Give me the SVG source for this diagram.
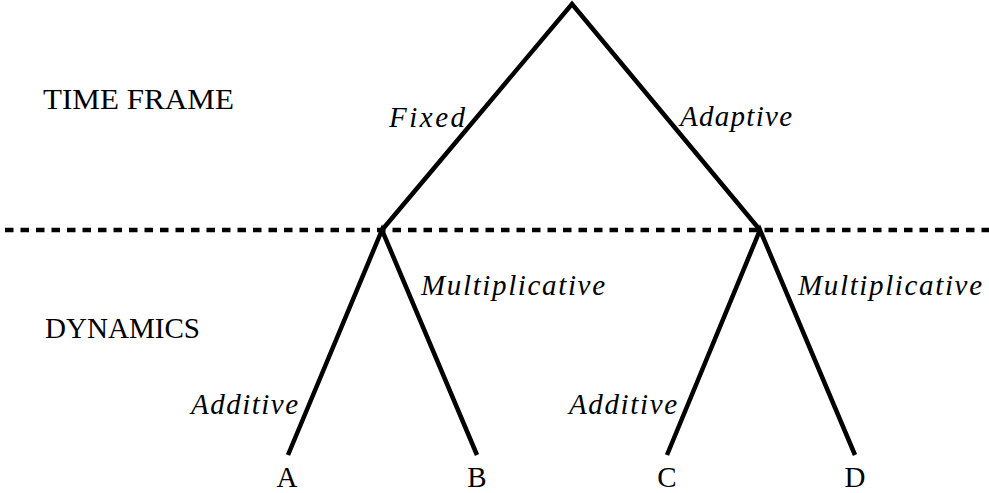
<svg xmlns="http://www.w3.org/2000/svg" width="989" height="493" viewBox="0 0 989 493">
<style>
text{font-family:'Liberation Serif','Times New Roman','DejaVu Serif',serif;font-size:29px;fill:#000}
.i{font-style:italic}
.e{fill:none;stroke:#000;stroke-width:4.5;stroke-linejoin:miter;stroke-linecap:butt}
.d{fill:none;stroke:#000;stroke-width:4.5;stroke-dasharray:8.5 7}
</style>
<rect width="989" height="493" fill="#fff"/>
<g id="connectors">
<line class="d" x1="5" y1="230" x2="989" y2="230"/>
<path class="e" d="M382,230 L572,4 L760,230"/>
<path class="e" d="M288,455 L382,230 L477,455"/>
<path class="e" d="M667,455 L760,230 L855,455"/>
</g>
<g id="level-labels">
<text x="43" y="109" textLength="191" lengthAdjust="spacingAndGlyphs">TIME FRAME</text>
<text x="45" y="338" textLength="155" lengthAdjust="spacingAndGlyphs">DYNAMICS</text>
</g>
<g id="edge-labels">
<text class="i" x="389" y="127" textLength="76" lengthAdjust="spacing">Fixed</text>
<text class="i" x="680" y="126" textLength="112" lengthAdjust="spacing">Adaptive</text>
<text class="i" x="421" y="295" textLength="184" lengthAdjust="spacing">Multiplicative</text>
<text class="i" x="798" y="295" textLength="184" lengthAdjust="spacing">Multiplicative</text>
<text class="i" x="191" y="414" textLength="107" lengthAdjust="spacing">Additive</text>
<text class="i" x="569" y="414" textLength="108" lengthAdjust="spacing">Additive</text>
</g>
<g id="node-A"><text x="287" y="487" text-anchor="middle">A</text></g>
<g id="node-B"><text x="477" y="487" text-anchor="middle">B</text></g>
<g id="node-C"><text x="667" y="487" text-anchor="middle">C</text></g>
<g id="node-D"><text x="855" y="487" text-anchor="middle">D</text></g>
</svg>
